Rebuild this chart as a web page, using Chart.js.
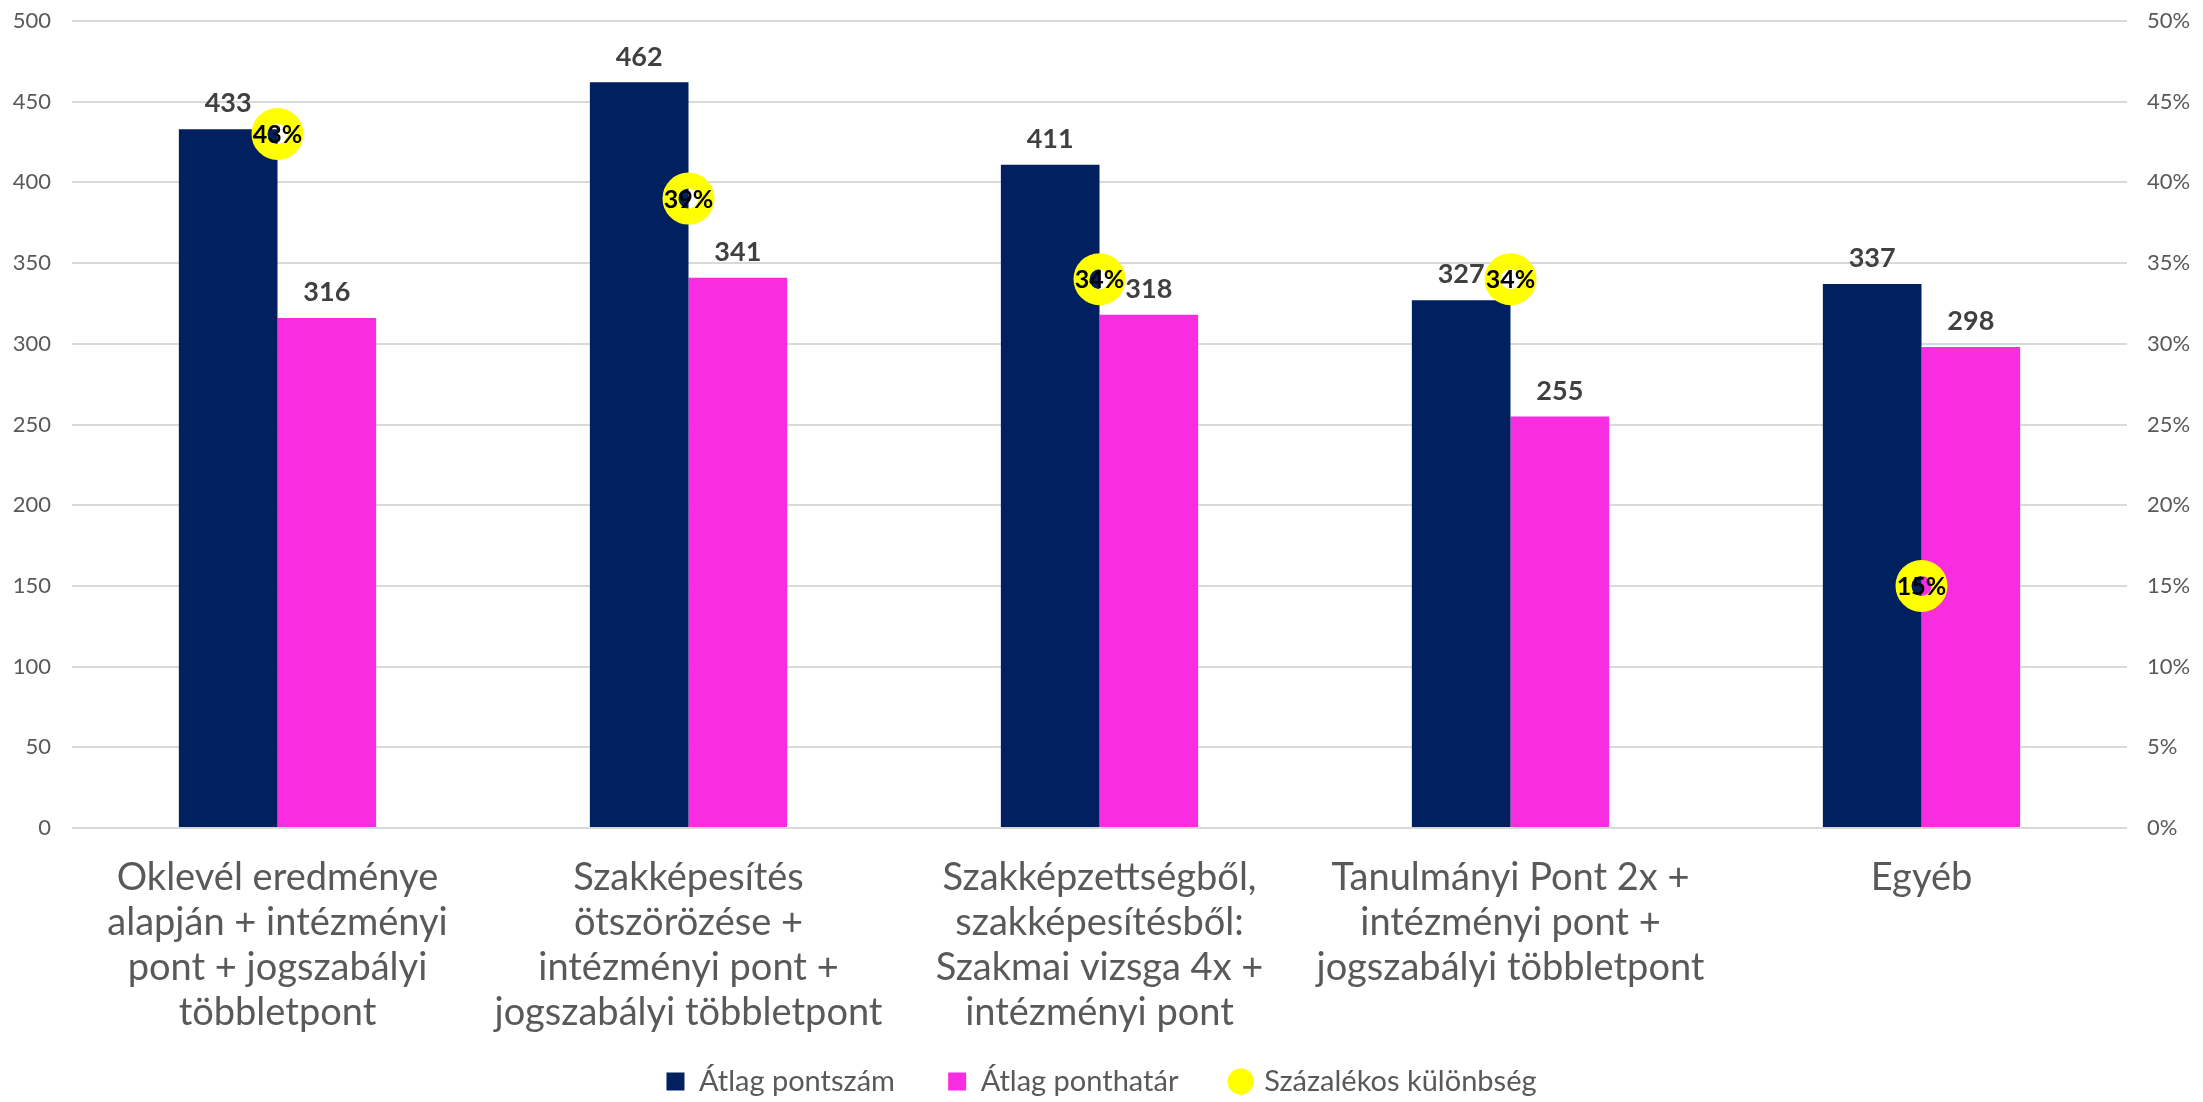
<!DOCTYPE html>
<html lang="hu">
<head>
<meta charset="UTF-8">
<title>Átlag pontszám és ponthatár</title>
<script src="https://cdn.jsdelivr.net/npm/chart.js"></script>
<style>
    body { margin: 0; background: #ffffff; }
    #wrap { width: 2203px; height: 1102px; position: relative; }
</style>
</head>
<body>
<div id="wrap"><canvas id="chart"></canvas></div>
<script>
// chart data
const categories = [
    ['Oklevél eredménye', 'alapján + intézményi', 'pont + jogszabályi', 'többletpont'],
    ['Szakképesítés', 'ötszörözése +', 'intézményi pont +', 'jogszabályi többletpont'],
    ['Szakképzettségből,', 'szakképesítésből:', 'Szakmai vizsga 4x +', 'intézményi pont'],
    ['Tanulmányi Pont 2x +', 'intézményi pont +', 'jogszabályi többletpont'],
    ['Egyéb']
];
const atlagPontszam = [433, 462, 411, 327, 337];
const atlagPonthatar = [316, 341, 318, 255, 298];
const szazalekosKulonbseg = [0.43, 0.39, 0.34, 0.34, 0.15];

const NAVY = '#002060';
const PINK = '#f82ce0';
const YELLOW = '#ffff00';
const GREY = '#595959';
const FONT = 'Lato, "Open Sans", sans-serif';

// draws the value labels above the bars and inside the rings
const valueLabels = {
    id: 'valueLabels',
    afterDatasetsDraw(chart) {
        const ctx = chart.ctx;
        ctx.save();
        ctx.textAlign = 'center';
        [1, 2].forEach(function(di) {
            const meta = chart.getDatasetMeta(di);
            ctx.font = 'bold 27px ' + FONT;
            ctx.fillStyle = '#404040';
            ctx.textBaseline = 'bottom';
            meta.data.forEach(function(bar, i) {
                ctx.fillText(chart.data.datasets[di].data[i], bar.x, bar.y - 12);
            });
        });
        const pts = chart.getDatasetMeta(0).data;
        ctx.font = 'bold 25px ' + FONT;
        ctx.fillStyle = '#000000';
        ctx.textBaseline = 'middle';
        pts.forEach(function(p, i) {
            ctx.fillText(Math.round(szazalekosKulonbseg[i] * 100) + '%', p.x, p.y + 1);
        });
        ctx.restore();
    }
};

const ctx = document.getElementById('chart').getContext('2d');
new Chart(ctx, {
    type: 'bar',
    data: {
        labels: categories,
        datasets: [
            {
                type: 'line',
                label: 'Százalékos különbség',
                data: szazalekosKulonbseg,
                yAxisID: 'y1',
                showLine: false,
                pointRadius: 18,
                pointHoverRadius: 18,
                pointBorderWidth: 16,
                pointBorderColor: YELLOW,
                pointBackgroundColor: 'rgba(0,0,0,0)',
                borderColor: YELLOW,
                backgroundColor: YELLOW,
                order: 0
            },
            {
                label: 'Átlag pontszám',
                data: atlagPontszam,
                backgroundColor: NAVY,
                yAxisID: 'y',
                categoryPercentage: 0.48,
                barPercentage: 1.0,
                order: 1
            },
            {
                label: 'Átlag ponthatár',
                data: atlagPonthatar,
                backgroundColor: PINK,
                yAxisID: 'y',
                categoryPercentage: 0.48,
                barPercentage: 1.0,
                order: 1
            }
        ]
    },
    options: {
        responsive: true,
        maintainAspectRatio: false,
        animation: false,
        layout: { autoPadding: false, padding: { top: 21, left: 0, right: 0, bottom: -4 } },
        plugins: {
            tooltip: { enabled: false },
            legend: {
                position: 'bottom',
                labels: {
                    font: { family: FONT, size: 29 },
                    color: GREY,
                    usePointStyle: true,
                    boxWidth: 18,
                    boxHeight: 18,
                    padding: 31,
                    generateLabels: function(chart) {
                        const items = Chart.defaults.plugins.legend.labels.generateLabels(chart);
                        items.forEach(function(it) {
                            if (it.datasetIndex === 0) {
                                it.pointStyle = 'circle';
                                it.fillStyle = YELLOW;
                                it.strokeStyle = YELLOW;
                                it.lineWidth = 1;
                            } else {
                                it.pointStyle = 'rect';
                                it.lineWidth = 0;
                                it.text = it.text + '   ';
                            }
                        });
                        // bars first, rings last
                        items.sort(function(a, b) {
                            return (a.datasetIndex || 3) - (b.datasetIndex || 3);
                        });
                        return items;
                    }
                }
            }
        },
        scales: {
            x: {
                grid: { display: false },
                border: { display: false },
                ticks: {
                    font: { family: FONT, size: 38, lineHeight: 1.184 },
                    color: GREY,
                    maxRotation: 0,
                    autoSkip: false,
                    padding: 19
                },
                afterFit: function(scale) { scale.height = 208; }
            },
            y: {
                position: 'left',
                min: 0,
                max: 500,
                grid: { color: '#d9d9d9', lineWidth: 2, tickLength: 17, tickColor: 'rgba(0,0,0,0)' },
                border: { display: false },
                ticks: {
                    stepSize: 50,
                    font: { family: FONT, size: 22, lineHeight: 1.0 },
                    color: GREY,
                    padding: 4
                },
                afterFit: function(scale) { scale.width = 72; }
            },
            y1: {
                position: 'right',
                min: 0,
                max: 0.5,
                grid: { drawOnChartArea: false, tickLength: 16, tickColor: 'rgba(0,0,0,0)' },
                border: { display: false },
                ticks: {
                    stepSize: 0.05,
                    font: { family: FONT, size: 22, lineHeight: 1.0 },
                    color: GREY,
                    padding: 4,
                    callback: function(v) { return Math.round(v * 100) + '%'; }
                },
                afterFit: function(scale) { scale.width = 76; }
            }
        }
    },
    plugins: [valueLabels]
});
</script>
</body>
</html>
